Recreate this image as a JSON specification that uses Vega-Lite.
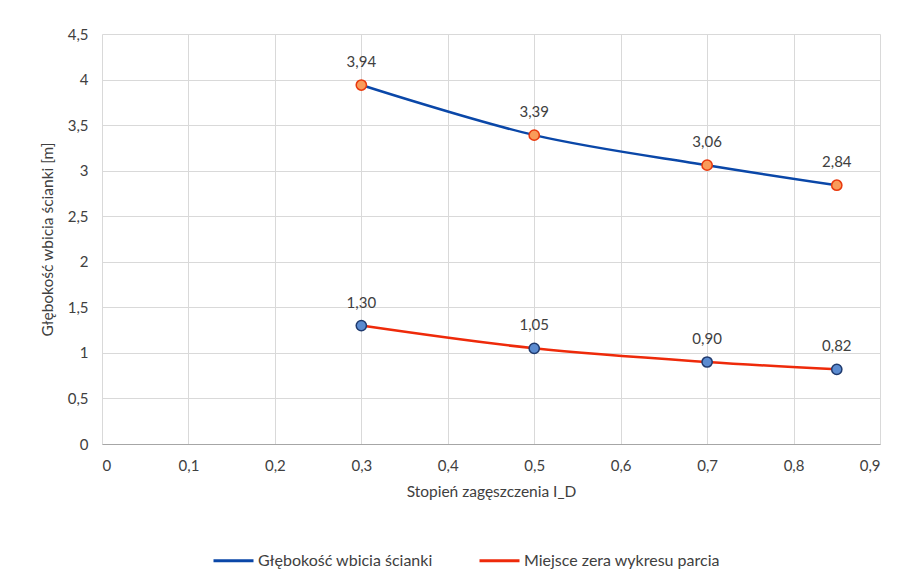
{
  "$schema": "https://vega.github.io/schema/vega-lite/v6.json",
  "width": 778,
  "height": 410,
  "autosize": {"type": "none"},
  "padding": {"left": 102, "top": 34, "right": 23, "bottom": 126},
  "background": "white",
  "config": {
    "locale": {"number": {"decimal": ",", "thousands": " ", "grouping": [3], "currency": ["", " zł"]}},
    "font": "Lato",
    "view": {"stroke": null},
    "axis": {"labelFont": "Lato", "titleFont": "Lato", "labelColor": "#404040", "titleColor": "#404040", "labelFontSize": 15, "titleFontSize": 15.5, "titleFontWeight": "normal", "gridColor": "#d9d9d9", "gridWidth": 1, "ticks": false},
    "legend": {"labelFont": "Lato", "labelFontSize": 16, "labelColor": "#404040", "labelLimit": 0}
  },
  "data": {
    "values": [
      {"ID": 0.3, "h": 3.94, "seria": "Głębokość wbicia ścianki"},
      {"ID": 0.5, "h": 3.39, "seria": "Głębokość wbicia ścianki"},
      {"ID": 0.7, "h": 3.06, "seria": "Głębokość wbicia ścianki"},
      {"ID": 0.85, "h": 2.84, "seria": "Głębokość wbicia ścianki"},
      {"ID": 0.3, "h": 1.30, "seria": "Miejsce zera wykresu parcia"},
      {"ID": 0.5, "h": 1.05, "seria": "Miejsce zera wykresu parcia"},
      {"ID": 0.7, "h": 0.90, "seria": "Miejsce zera wykresu parcia"},
      {"ID": 0.85, "h": 0.82, "seria": "Miejsce zera wykresu parcia"}
    ]
  },
  "encoding": {
    "x": {
      "field": "ID", "type": "quantitative",
      "scale": {"domain": [0, 0.9], "nice": false},
      "axis": {"values": [0, 0.1, 0.2, 0.3, 0.4, 0.5, 0.6, 0.7, 0.8, 0.9], "format": ".1~f", "title": "Stopień zagęszczenia I_D", "domainColor": "#a6a6a6", "domainWidth": 1, "labelPadding": 14, "titlePadding": 11}
    },
    "y": {
      "field": "h", "type": "quantitative",
      "scale": {"domain": [0, 4.5], "nice": false},
      "axis": {"values": [0, 0.5, 1, 1.5, 2, 2.5, 3, 3.5, 4, 4.5], "format": ".1~f", "title": "Głębokość wbicia ścianki [m]", "domain": false, "labelPadding": 14, "titlePadding": 12}
    }
  },
  "layer": [
    {
      "mark": {"type": "line", "interpolate": "catmull-rom", "strokeWidth": 2.5},
      "encoding": {
        "color": {
          "field": "seria", "type": "nominal",
          "scale": {"domain": ["Głębokość wbicia ścianki", "Miejsce zera wykresu parcia"], "range": ["#0a47a8", "#ee2a0a"]},
          "legend": {"title": null, "orient": "none", "direction": "horizontal", "legendX": 110, "legendY": 505, "symbolType": "stroke", "symbolSize": 1600, "symbolStrokeWidth": 3, "columnPadding": 40, "labelOffset": 3}
        }
      }
    },
    {
      "mark": {"type": "point", "filled": true, "size": 105, "strokeWidth": 1.5, "opacity": 1},
      "encoding": {
        "fill": {"field": "seria", "type": "nominal", "scale": {"domain": ["Głębokość wbicia ścianki", "Miejsce zera wykresu parcia"], "range": ["#f99b5a", "#5b8bd0"]}, "legend": null},
        "stroke": {"field": "seria", "type": "nominal", "scale": {"domain": ["Głębokość wbicia ścianki", "Miejsce zera wykresu parcia"], "range": ["#e8380d", "#1f3a6e"]}, "legend": null}
      }
    },
    {
      "mark": {"type": "text", "dy": -23, "fontSize": 15, "color": "#404040", "font": "Lato"},
      "encoding": {
        "text": {"field": "h", "type": "quantitative", "format": ".2f"}
      }
    }
  ]
}
